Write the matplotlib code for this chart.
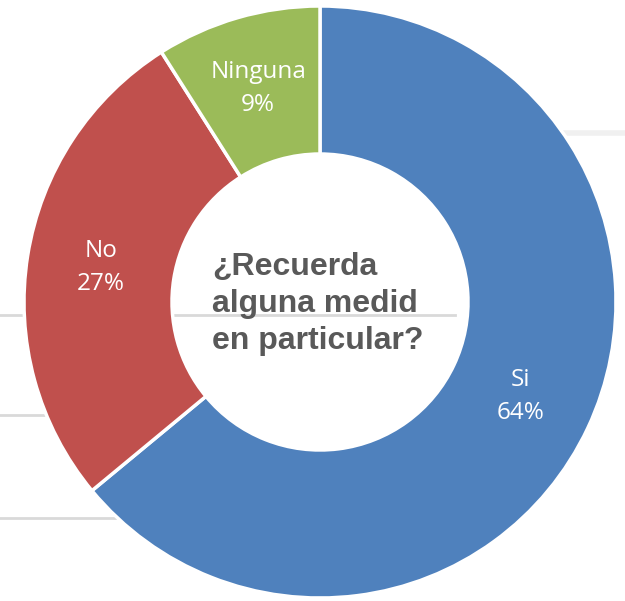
import matplotlib
matplotlib.use("Agg")
import matplotlib.pyplot as plt

categories = ["Si", "No", "Ninguna"]
values = [64, 27, 9]
colors = ["#4F81BD", "#C0504D", "#9BBB59"]
center_text = "¿Recuerda\nalguna medid\nen particular?"

W, H = 625, 601
fig = plt.figure(figsize=(W / 100, H / 100), dpi=100)
ax = fig.add_axes([0, 0, 1, 1])
ax.set_xlim(0, W)
ax.set_ylim(0, H)
ax.set_aspect("equal")
ax.axis("off")

# faint background grid remnants
for y, x0, x1 in [(315, 0, 455), (415, 0, 45), (518, 0, 115)]:
    ax.plot([x0, x1], [H - y, H - y], color="#d9d9d9", lw=2, zorder=0)
ax.plot([540, 625], [H - 133, H - 133], color="#f0f0f0", lw=4, zorder=0)

cx, cy, R = 320, H - 302, 296
labels = [f"{c}\n{v}%" for c, v in zip(categories, values)]
wedges, texts = ax.pie(values, colors=colors, startangle=90, counterclock=False,
                       center=(cx, cy), radius=R, labels=labels, labeldistance=0.75,
                       wedgeprops=dict(width=R * 0.5, edgecolor="white", linewidth=2.5),
                       textprops=dict(color="white", fontsize=17.5, family="Open Sans",
                                      ha="center", va="center", linespacing=1.5),
                       frame=True)
for t in texts:
    t.set_horizontalalignment("center")
ax.set_xlim(0, W)
ax.set_ylim(0, H)
ax.axis("off")

ax.text(318, cy - 2, center_text, ha="center", va="center", multialignment="left",
        fontsize=23, fontweight="bold", family="Liberation Sans", color="#595959",
        linespacing=1.32)

fig.savefig("out.png", dpi=100)
